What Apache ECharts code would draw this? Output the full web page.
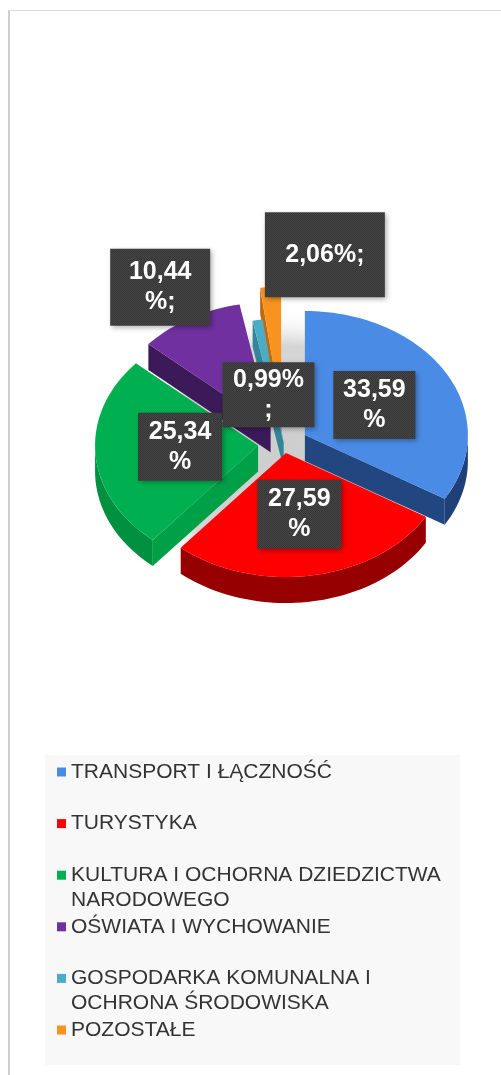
<!DOCTYPE html>
<html>
<head>
<meta charset="utf-8">
<script src="https://cdn.jsdelivr.net/npm/echarts@6/dist/echarts.min.js"></script>
<style>
  html, body { margin: 0; padding: 0; background: #ffffff; }
  #frame { position: absolute; left: 8px; top: 10px; width: 493px; height: 1065px;
           border-left: 2px solid #cdcdcd; border-top: 1px solid #dadada; box-sizing: border-box; }
  #chart { position: absolute; left: 0; top: 0; width: 501px; height: 1075px; }
</style>
</head>
<body>
<div id="frame"></div>
<div id="chart"></div>
<script>
// Categories and their shares (percent)
const categories = [
  'TRANSPORT I ŁĄCZNOŚĆ',
  'TURYSTYKA',
  'KULTURA I OCHORNA DZIEDZICTWA NARODOWEGO',
  'OŚWIATA I WYCHOWANIE',
  'GOSPODARKA KOMUNALNA I OCHRONA ŚRODOWISKA',
  'POZOSTAŁE'
];
const shares = [33.59, 27.59, 25.34, 10.44, 0.99, 2.06];
// How each data label wraps its formatted value
const labelTemplates = ['{v}\n%', '{v}\n%', '{v}\n%', '{v}\n%;', '{v}%\n;', '{v}%;'];

// Styling
const topColors  = ['#4a8be6', '#ff0000', '#00b050', '#7030a0', '#4bacc6', '#f7931e'];
const rimColors  = ['#1f3f78', '#960000', '#00903f', '#3a1857', '#2d7a8e', '#b5600a'];
const faceColors = ['#22467f', '#a00000', '#00a046', '#3c1a5a', '#33859a', '#c06a10'];
const explode = [24, 12, 26, 27, 2, 44];                 // radial pull-out of each slice
const labelPlacement = [[0.49, 0, 0], [0.5, 0, 0], [0.48, 0, -3], [1.29, -6, 0], [0.39, -5, 0], [1.26, 57, 0]];
const labelBoxes = [[82, 68], [84, 69], [84, 68], [100, 77], [92, 65], [120, 85]];

const PIE = { cx: 284, cy: 444, rx: 163, ry: 124, depth: 26 };
const total = shares.reduce((a, b) => a + b, 0);
const startDeg = [];
shares.reduce((acc, v) => { startDeg.push(acc / total * 360); return acc + v; }, 0);

const rad = d => d * Math.PI / 180;
function pt(ax, ay, deg, h) {
  const r = rad(deg);
  return [ax + PIE.rx * Math.sin(r), ay - PIE.ry * Math.cos(r) + h];
}
function arcPts(ax, ay, a0, a1, h) {
  const n = Math.max(2, Math.ceil(Math.abs(a1 - a0) / 2));
  const pts = [];
  for (let j = 0; j <= n; j++) pts.push(pt(ax, ay, a0 + (a1 - a0) * j / n, h));
  return pts;
}
function formatLabel(i, v) {
  return labelTemplates[i].replace('{v}', v.toFixed(2).replace('.', ','));
}

// fine dithered fill for the label boxes
const tile = document.createElement('canvas');
tile.width = tile.height = 2;
const tg = tile.getContext('2d');
tg.fillStyle = '#454545'; tg.fillRect(0, 0, 2, 2);
tg.fillStyle = '#363636'; tg.fillRect(0, 0, 1, 1); tg.fillRect(1, 1, 1, 1);
const boxFill = { image: tile, repeat: 'repeat' };

// One 3D wedge per series: rim, visible radial faces, top face and value label
function renderSlice(params, api) {
  const i = params.seriesIndex;
  const value = api.value(0);
  const a0 = startDeg[i];
  const a1 = a0 + value / total * 360;
  const mid = (a0 + a1) / 2, mr = rad(mid);
  const k = PIE.ry / PIE.rx;
  const ax = PIE.cx + explode[i] * Math.sin(mr);
  const ay = PIE.cy - explode[i] * Math.cos(mr) * k;
  const d = PIE.depth;
  const near = (ay - PIE.ry * 0.5 * Math.cos(mr)) / 1000;
  const kids = [];

  const w0 = Math.max(a0, 90), w1 = Math.min(a1, 270);
  if (w1 > w0) {
    const pts = arcPts(ax, ay, w0, w1, 0).concat(arcPts(ax, ay, w1, w0, d));
    kids.push({ type: 'polygon', shape: { points: pts }, style: { fill: rimColors[i] }, z2: 10 + near });
  }
  const faces = [];
  if (Math.sin(rad(a0)) < -1e-6) faces.push(a0);
  if (Math.sin(rad(a1)) > 1e-6) faces.push(a1);
  faces.forEach(a => {
    const p = pt(ax, ay, a, 0);
    kids.push({ type: 'polygon',
      shape: { points: [[ax, ay], p, [p[0], p[1] + d], [ax, ay + d]] },
      style: { fill: faceColors[i] }, z2: 10 + near });
  });
  kids.push({ type: 'polygon',
    shape: { points: [[ax, ay]].concat(arcPts(ax, ay, a0, a1, 0)) },
    style: { fill: topColors[i] }, z2: 20 + near });

  const [t, nx, ny] = labelPlacement[i];
  const lx = ax + t * PIE.rx * Math.sin(mr) + nx;
  const ly = ay - t * PIE.ry * Math.cos(mr) + ny;
  const [bw, bh] = labelBoxes[i];
  kids.push({ type: 'rect',
    shape: { x: lx - bw / 2, y: ly - bh / 2, width: bw, height: bh },
    style: { fill: boxFill, shadowBlur: 5, shadowColor: 'rgba(0,0,0,0.3)', shadowOffsetX: 2, shadowOffsetY: 2 },
    z2: 40 });
  kids.push({ type: 'text',
    style: { text: formatLabel(i, value), x: lx, y: ly, align: 'center', verticalAlign: 'middle',
             fill: '#ffffff', fontSize: 25, fontWeight: 'bold', fontFamily: 'Liberation Sans', lineHeight: 30 },
    z2: 41 });
  return { type: 'group', children: kids };
}

// Legend text wrapping
const LEGEND_FONT = '21px "Liberation Sans"';
const LEGEND_WIDTH = 385;
const mctx = document.createElement('canvas').getContext('2d');
function wrapWords(text) {
  mctx.font = LEGEND_FONT;
  const lines = [];
  let cur = '';
  text.split(' ').forEach(w => {
    const t = cur ? cur + ' ' + w : w;
    if (cur && mctx.measureText(t).width > LEGEND_WIDTH) { lines.push(cur); cur = w; }
    else cur = t;
  });
  if (cur) lines.push(cur);
  return lines;
}
// Blank lines on top keep the first text line level with the marker
function legendText(name) {
  const lines = wrapWords(name);
  return new Array(lines.length - 1).fill('').concat(lines).join('\n');
}

const LEGEND_FIRST = 772, LEGEND_STEP = 51.6, LEGEND_LINE = 25;
const legends = categories.map((name, i) => {
  const n = wrapWords(name).length;
  const boxH = (2 * n - 1) * LEGEND_LINE;
  return {
    data: [name],
    left: 57,
    top: LEGEND_FIRST + LEGEND_STEP * i - boxH / 2,
    padding: 0,
    icon: 'rect',
    itemWidth: 9,
    itemHeight: 9,
    selectedMode: false,
    formatter: legendText,
    textStyle: { fontSize: 21, fontFamily: 'Liberation Sans', color: '#333333', lineHeight: LEGEND_LINE }
  };
});

const chart = echarts.init(document.getElementById('chart'), null, { renderer: 'canvas' });
chart.setOption({
  animation: false,
  graphic: [
    { type: 'rect', z: 0, shape: { x: 45, y: 755, width: 415, height: 310 }, style: { fill: '#f8f8f8' } },
    { type: 'ellipse', z: 0, shape: { cx: 284, cy: 458, rx: 195, ry: 150 },
      style: { fill: new echarts.graphic.RadialGradient(0.5, 0.5, 0.5, [
        { offset: 0, color: '#cdcdcd' },
        { offset: 0.75, color: '#d5d5d5' },
        { offset: 1, color: 'rgba(255,255,255,0)' }
      ]) } }
  ],
  legend: legends,
  series: categories.map((name, i) => ({
    type: 'custom',
    name: name,
    coordinateSystem: 'none',
    silent: true,
    itemStyle: { color: topColors[i] },
    data: [[shares[i]]],
    renderItem: renderSlice
  }))
});
</script>
</body>
</html>
